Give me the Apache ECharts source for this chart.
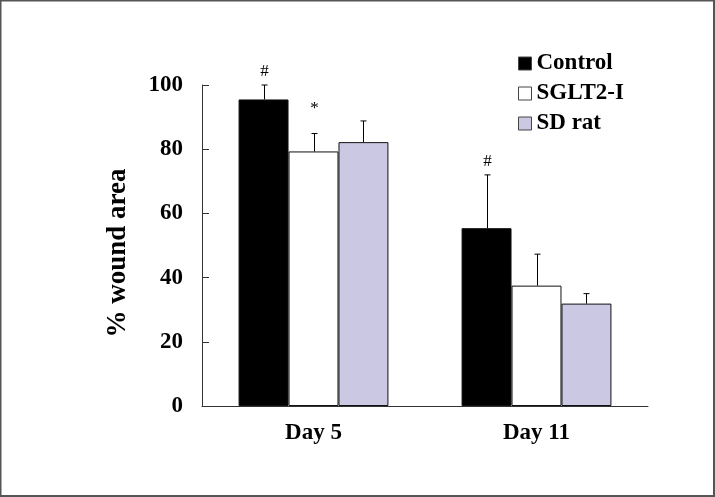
<!DOCTYPE html>
<html>
<head>
<meta charset="utf-8">
<script src="https://cdn.jsdelivr.net/npm/echarts@6/dist/echarts.min.js"></script>
<style>
html,body{margin:0;padding:0;background:#fff;}
#chart{width:715px;height:497px;}
</style>
</head>
<body>
<div id="chart"></div>
<script>
var categories = ['Day 5', 'Day 11'];
var seriesNames = ['Control', 'SGLT2-I', 'SD rat'];
var controlValues = [95.5, 55.4];
var sglt2Values = [79.3, 37.5];
var sdValues = [82.2, 31.9];
var controlErrors = [4.5, 16.6];
var sglt2Errors = [5.6, 9.8];
var sdErrors = [6.6, 3.1];
var controlMarks = ['#', '#'];
var sglt2Marks = ['*', ''];
var sdMarks = ['', ''];
var yTicks = [0, 20, 40, 60, 80, 100];
var yTitle = '% wound area';

var FONT = '"Liberation Serif", "Times New Roman", serif';
var colors = ['#000000', '#ffffff', '#cbc8e4'];
var BAR_FRAC = 0.224;

var values = [controlValues, sglt2Values, sdValues];
var errors = [controlErrors, sglt2Errors, sdErrors];
var marks = [controlMarks, sglt2Marks, sdMarks];

var series = [];
seriesNames.forEach(function (name, i) {
  series.push({
    name: name,
    type: 'bar',
    data: values[i],
    barWidth: (BAR_FRAC * 100) + '%',
    barGap: '0%',
    itemStyle: { color: colors[i], borderColor: '#111', borderWidth: 1 },
    emphasis: { disabled: true },
    z: 2
  });
});

seriesNames.forEach(function (name, i) {
  var data = categories.map(function (c, k) {
    return [k, values[i][k], values[i][k] + errors[i][k]];
  });
  series.push({
    type: 'custom',
    name: name + '_err',
    data: data,
    z: 3,
    silent: true,
    encode: { x: 0, y: [1, 2] },
    renderItem: function (params, api) {
      var k = api.value(0);
      var band = api.size([1, 0])[0];
      var offset = (i - 1) * band * BAR_FRAC;
      var base = api.coord([k, api.value(1)]);
      var top = api.coord([k, api.value(2)]);
      var x = Math.round(base[0] + offset) + 0.5;
      var cap = 3;
      var children = [
        { type: 'line', shape: { x1: x, y1: base[1], x2: x, y2: top[1] }, style: { stroke: '#000', lineWidth: 1 } },
        { type: 'line', shape: { x1: x - cap, y1: top[1], x2: x + cap, y2: top[1] }, style: { stroke: '#000', lineWidth: 1 } }
      ];
      var m = marks[i][k];
      if (m) {
        children.push({
          type: 'text',
          style: {
            text: m, x: x, y: top[1] - (m === '*' ? 16 : 5),
            textAlign: 'center', textVerticalAlign: 'bottom',
            fontFamily: FONT, fontSize: 17, fill: '#000'
          }
        });
      }
      return { type: 'group', children: children };
    }
  });
});

var chart = echarts.init(document.getElementById('chart'));
chart.setOption({
  animation: false,
  backgroundColor: '#fff',
  graphic: [{
    type: 'rect', silent: true,
    shape: { x: 0.5, y: 0.5, width: 713.5, height: 495.5 },
    style: { fill: 'none', stroke: '#555', lineWidth: 2 }
  }, {
    type: 'text', silent: true,
    x: 118, y: 253, rotation: Math.PI / 2,
    style: {
      text: yTitle, textAlign: 'center', textVerticalAlign: 'middle',
      fontFamily: FONT, fontWeight: 'bold', fontSize: 27, fill: '#000'
    }
  }],
  grid: { left: 202, right: 67, top: 85, bottom: 91 },
  legend: {
    data: seriesNames,
    orient: 'vertical',
    left: 513,
    top: 47,
    itemWidth: 13,
    itemHeight: 13,
    itemGap: 7,
    icon: 'rect',
    itemStyle: { borderColor: '#444', borderWidth: 1 },
    textStyle: { fontFamily: FONT, fontWeight: 'bold', fontSize: 23, color: '#000' }
  },
  xAxis: {
    type: 'category',
    data: categories,
    axisLine: { lineStyle: { color: '#333', width: 1 } },
    axisTick: { inside: true, length: 6, lineStyle: { color: '#333' } },
    axisLabel: { fontFamily: FONT, fontWeight: 'bold', fontSize: 23, color: '#000', margin: 16 }
  },
  yAxis: {
    type: 'value',
    min: 0, max: 100, interval: 20,
    axisLine: { show: true, lineStyle: { color: '#333', width: 1 } },
    axisTick: { show: true, inside: true, length: 7, lineStyle: { color: '#333' } },
    splitLine: { show: false },
    axisLabel: {
      fontFamily: FONT, fontWeight: 'bold', fontSize: 23, color: '#000', margin: 19,
      formatter: function (v) { return yTicks.indexOf(v) >= 0 ? String(v) : ''; }
    }
  },
  series: series
});
</script>
</body>
</html>
